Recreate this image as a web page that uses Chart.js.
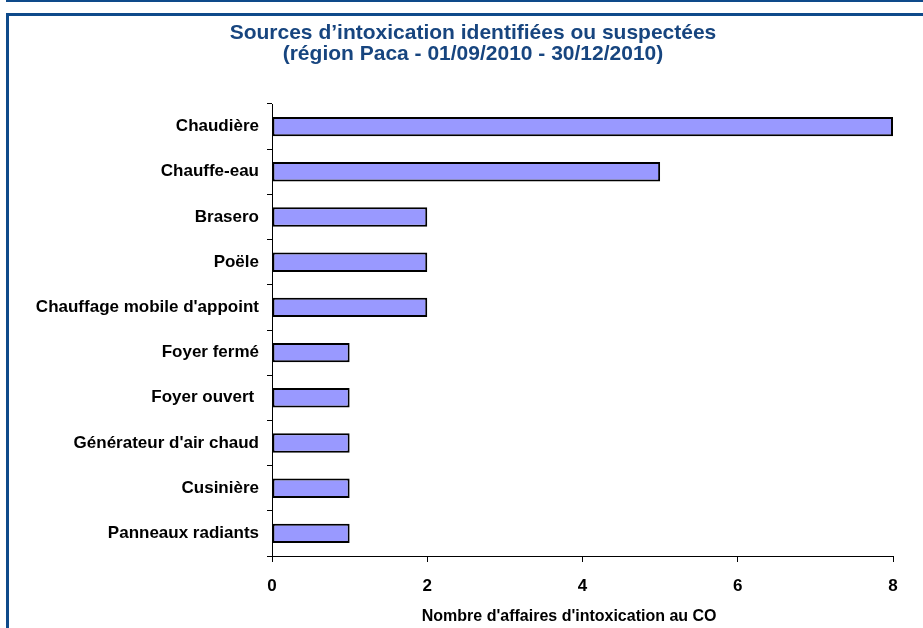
<!DOCTYPE html>
<html>
<head>
<meta charset="utf-8">
<script src="https://cdn.jsdelivr.net/npm/chart.js@4"></script>
<style>
  html, body { margin: 0; padding: 0; background: #fff; overflow: hidden; }
  body { width: 923px; height: 628px; position: relative; }
  #topline { position: absolute; left: 6px; top: 0; width: 917px; height: 2px; background: #0E4A8A; }
  #frame { position: absolute; left: 6px; top: 13px; width: 917px; height: 615px;
           border-top: 3px solid #0E4A8A; border-left: 3px solid #0E4A8A; box-sizing: border-box; }
  #wrap { position: absolute; left: 9px; top: 16px; width: 914px; height: 612px; }
  #title { position: absolute; left: 173px; width: 600px; top: 21px; text-align: center;
           font-family: 'Liberation Sans', Arial, sans-serif; font-weight: bold; font-size: 21px;
           line-height: 21px; color: #17457F; white-space: nowrap; }
</style>
</head>
<body>
<div id="topline"></div>
<div id="frame"></div>
<div id="wrap"><canvas id="c" width="914" height="612"></canvas></div>
<div id="title"></div>
<script>
const categories = [
  "Chaudière",
  "Chauffe-eau",
  "Brasero",
  "Poële",
  "Chauffage mobile d'appoint",
  "Foyer fermé",
  "Foyer ouvert ",
  "Générateur d'air chaud",
  "Cusinière",
  "Panneaux radiants"
];
const values = [8, 5, 2, 2, 2, 1, 1, 1, 1, 1];
const titleLines = [
  "Sources d’intoxication identifiées ou suspectées",
  "(région Paca - 01/09/2010 - 30/12/2010)"
];
const xAxisTitle = "Nombre d'affaires d'intoxication au CO";
const xMin = 0, xMax = 8, xStep = 2;

const FONT = "'Liberation Sans', Arial, sans-serif";

const titleEl = document.getElementById('title');
titleLines.forEach(function (line) {
  const d = document.createElement('div');
  d.textContent = line;
  titleEl.appendChild(d);
});

new Chart(document.getElementById('c'), {
  type: 'bar',
  data: {
    labels: categories,
    datasets: [{
      data: values,
      backgroundColor: '#9999FF',
      borderColor: '#000000',
      borderWidth: 2,
      borderSkipped: false,
      categoryPercentage: 1.0,
      barPercentage: 0.43
    }]
  },
  options: {
    indexAxis: 'y',
    responsive: false,
    animation: false,
    devicePixelRatio: 1,
    layout: { padding: { left: 0, right: 30, top: 88, bottom: 0 } },
    plugins: {
      legend: { display: false },
      tooltip: { enabled: false },
      title: { display: false }
    },
    scales: {
      y: {
        afterFit(scale) { scale.width = 263; },
        grid: { drawOnChartArea: false, drawTicks: true, tickLength: 5, color: '#000', offset: true },
        border: { color: '#000', width: 1 },
        ticks: { color: '#000', padding: 8, font: { family: FONT, size: 17, weight: 'bold' } }
      },
      x: {
        min: xMin, max: xMax,
        afterFit(scale) { scale.height = 72; },
        grid: { drawOnChartArea: false, drawTicks: true, tickLength: 6, color: '#000' },
        border: { color: '#000', width: 1 },
        ticks: { stepSize: xStep, color: '#000', padding: 14, maxRotation: 0,
                 font: { family: FONT, size: 17, weight: 'bold' } },
        title: {
          display: true, text: xAxisTitle + "      ", color: '#000',
          font: { family: FONT, size: 16, weight: 'bold', lineHeight: 1.2 },
          padding: { top: 0, bottom: 2 }
        }
      }
    }
  }
});
</script>
</body>
</html>
